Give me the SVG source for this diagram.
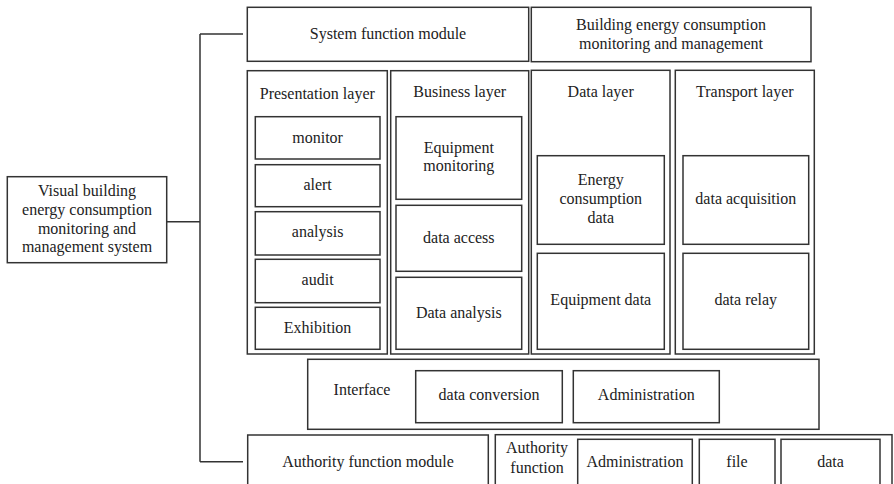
<svg xmlns="http://www.w3.org/2000/svg" width="894" height="484" viewBox="0 0 894 484" font-family="'Liberation Serif', 'Times New Roman', Times, 'DejaVu Serif', serif">
<style>
rect{fill:#fff;stroke:#333;stroke-width:1.5}
.conn{fill:none;stroke:#333;stroke-width:1.5}
text{font-family:'Liberation Serif','Times New Roman',Times,'DejaVu Serif',serif;font-size:16px;fill:#222;text-anchor:middle}
</style>
<rect x="0" y="0" width="894" height="484" style="stroke:none"/>
<g id="connectors">
<path class="conn" d="M167,221.7 H200 M200,34 V461.7 M200,34 H243 M200,461.7 H243"/>
</g>
<g id="root"><rect x="7.3" y="176.7" width="159.4" height="86"/>
<text x="87" y="195.7">Visual building</text><text x="87" y="214.6">energy consumption</text><text x="87" y="233.5">monitoring and</text><text x="87" y="252.4">management system</text></g>
<g id="sysmod"><rect x="247.3" y="7.3" width="281.4" height="54"/><text x="388" y="39">System function module</text></g>
<g id="bldg"><rect x="531.3" y="7.3" width="279.7" height="54.4"/><text x="671" y="29.5">Building energy consumption</text><text x="671" y="48.5">monitoring and management</text></g>
<g id="presentation"><rect x="247.3" y="70.7" width="140" height="283.3"/><text x="317.3" y="99">Presentation layer</text>
<rect x="255.3" y="116.7" width="124.7" height="42.3"/><text x="317.6" y="142.5">monitor</text>
<rect x="255.3" y="164.7" width="124.7" height="42"/><text x="317.6" y="190">alert</text>
<rect x="255.3" y="211.7" width="124.7" height="43.3"/><text x="317.6" y="237">analysis</text>
<rect x="255.3" y="259.3" width="124.7" height="43.4"/><text x="317.6" y="285">audit</text>
<rect x="255.3" y="307.3" width="124.7" height="42"/><text x="317.6" y="333.3">Exhibition</text></g>
<g id="business"><rect x="390.7" y="70.7" width="138" height="283.3"/><text x="459.7" y="96.7">Business layer</text>
<rect x="396" y="116.7" width="125.7" height="82.6"/><text x="458.8" y="152.7">Equipment</text><text x="458.8" y="171.2">monitoring</text>
<rect x="396" y="205.3" width="125.7" height="66"/><text x="458.8" y="242.7">data access</text>
<rect x="396" y="277.3" width="125.7" height="72"/><text x="458.8" y="318.3">Data analysis</text></g>
<g id="datalayer"><rect x="531.3" y="70.3" width="138.7" height="283.7"/><text x="600.7" y="96.7">Data layer</text>
<rect x="537.3" y="155.7" width="127" height="88.6"/><text x="600.8" y="185">Energy</text><text x="600.8" y="204">consumption</text><text x="600.8" y="222.5">data</text>
<rect x="537.3" y="253.3" width="127" height="96"/><text x="600.8" y="305">Equipment data</text></g>
<g id="transport"><rect x="675.3" y="70.3" width="139" height="283.7"/><text x="744.8" y="96.7">Transport layer</text>
<rect x="683" y="155.7" width="125.7" height="88.6"/><text x="745.8" y="204">data acquisition</text>
<rect x="683" y="253.3" width="125.7" height="96"/><text x="745.8" y="305">data relay</text></g>
<g id="interface"><rect x="307.7" y="359.3" width="511.3" height="70"/><text x="362" y="395">Interface</text>
<rect x="415.7" y="370.7" width="146.6" height="52"/><text x="489" y="400">data conversion</text>
<rect x="573.3" y="370.7" width="146" height="52"/><text x="646.3" y="400">Administration</text></g>
<g id="authmod"><rect x="247.7" y="435" width="240.6" height="60"/><text x="368" y="466.7">Authority function module</text></g>
<g id="authfunc"><rect x="495.3" y="434.7" width="396.7" height="60"/><text x="537" y="453">Authority</text><text x="537" y="473">function</text>
<rect x="577.7" y="439.3" width="114.6" height="55"/><text x="635" y="466.7">Administration</text>
<rect x="699.3" y="439.3" width="75.7" height="55"/><text x="737" y="466.7">file</text>
<rect x="781" y="439.3" width="99" height="55"/><text x="830.5" y="466.7">data</text></g>
</svg>
